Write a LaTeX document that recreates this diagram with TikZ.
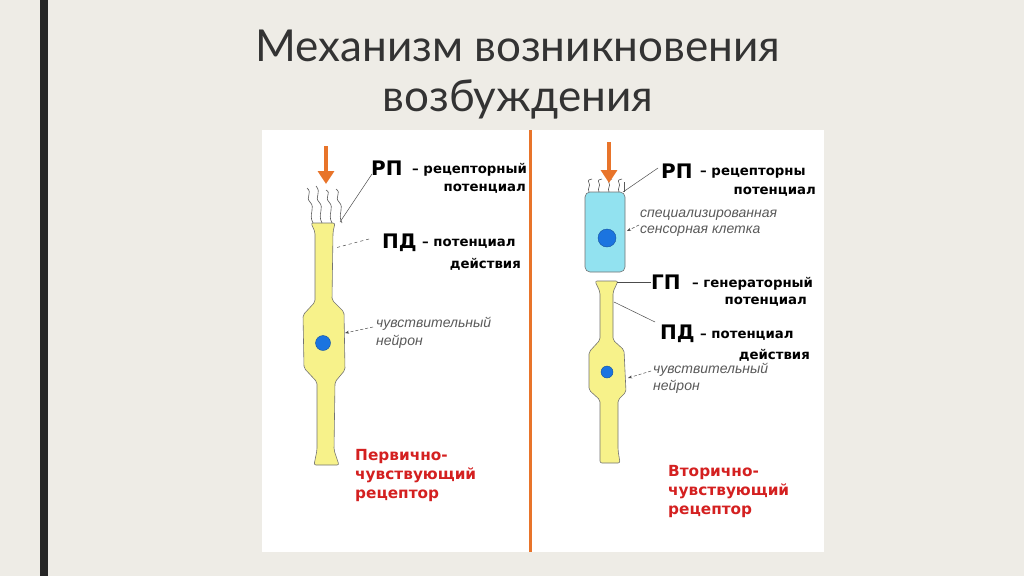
\documentclass[tikz,border=0pt]{standalone}
\usepackage{fontspec}
\usetikzlibrary{arrows.meta}
\setmainfont{Lato}
\newfontfamily\lab{DejaVu Sans}
\newfontfamily\ita{Liberation Sans}
\begin{document}
\begin{tikzpicture}[x=1pt,y=-1pt]
\definecolor{bgc}{HTML}{EEECE6}
\definecolor{orng}{HTML}{E8742A}
\definecolor{yel}{HTML}{F7F28A}
\definecolor{cyanc}{HTML}{92E2F0}
\definecolor{nucl}{HTML}{1B74E0}
\definecolor{redc}{HTML}{D42020}
\tikzset{
 cellbody/.style={fill=yel,draw=black!55,line width=0.6pt,rounded corners=2pt},
 nuc/.style={circle,fill=nucl,draw=nucl!70!black,line width=0.4pt,inner sep=0pt},
 hair/.style={draw=black!65,line width=0.6pt},
 inarrow/.style={draw=orng,line width=4pt,-{Triangle[length=13pt,width=16pt]}},
 leader/.style={draw=black!70,line width=0.5pt},
 dleader/.style={draw=black!70,line width=0.5pt,dashed,dash pattern=on 3pt off 2pt,-{Stealth[length=4pt]}},
 big/.style={font=\lab\bfseries\fontsize{20}{24}\selectfont,inner sep=0pt},
 small/.style={font=\lab\bfseries\fontsize{13.3}{14}\selectfont,inner sep=0pt},
 itl/.style={font=\ita\itshape\fontsize{14}{14}\selectfont,text=black!65,inner sep=0pt,anchor=west},
 redt/.style={font=\lab\bfseries\fontsize{15.3}{19}\selectfont,text=redc,align=left,anchor=north west,inner sep=0pt},
}
\useasboundingbox (0,0) rectangle (1024,576);
\fill[bgc] (0,0) rectangle (1024,576);
\fill[black!85] (40,0) rectangle (48,576);
\node[font=\fontsize{44}{50}\selectfont,text=black!80,align=center] (title) at (518,75) {Механизм возникновения\\возбуждения};
\fill[white] (262,130) rectangle (824,552);
\draw[orng,line width=3pt] (530,130) -- (530,552);

% ===== left =====
\path[cellbody] (311,223)--(335,223)--(333,232)--(332,300)--(344,312)--(345,370)--(335,382)--(334,450)--(339,465)--(314,465)--(317,450)--(317,382)--(304,368)--(303,315)--(315,302)--(315,232)--cycle;
\node[nuc,minimum size=15pt] (ln) at (323,343) {};
\foreach \x/\t in {307/188,316/186,326/190,336/189}{
 \draw[hair] (\x+6,223) .. controls (\x+1,214) and (\x+9,208) .. (\x+3,202) .. controls (\x-2,197) and (\x+6,193) .. (\x,\t);
}
\coordinate (la0) at (326,146);
\coordinate (la1) at (326,184);
\draw[inarrow] (la0) -- (la1);
\node[big,anchor=west] (lrp) at (371,168) {РП};
\node[small,anchor=west] (lrp1) at (412,170) {– рецепторный};
\node[small,anchor=east] (lrp2) at (526,189) {потенциал};
\coordinate (lrpe) at (340,222);
\draw[leader] (372,174) -- (lrpe);
\node[big,anchor=west] (lpd) at (382,243) {ПД};
\node[small,anchor=west] (lpd1) at (422,244) {– потенциал};
\node[small,anchor=east] (lpd2) at (521,264) {действия};
\coordinate (lpde) at (335,248);
\draw[leader,dashed] (369,239) -- (lpde);
\node[itl] (ln1) at (376,324) {чувствительный};
\node[itl] (ln2) at (376,342) {нейрон};
\coordinate (lne) at (345,333);
\draw[dleader] (373,327) -- (lne);
\node[redt] (lred) at (355,449) {Первично-\\чувствующий\\рецептор};

% ===== right =====
\path[fill=cyanc,draw=black!55,line width=0.6pt,rounded corners=5pt] (585,192) -- (585,272) -- (625,272) -- (625,192) -- cycle;
\node[nuc,minimum size=18pt] (rn1) at (607,238) {};
\foreach \x in {587,597,607,617}{
 \draw[hair] (\x+2,192) .. controls (\x,188) and (\x+4,186) .. (\x+2,183) .. controls (\x,180) and (\x+3,179) .. (\x+5,179);
}
\draw[hair] (624,192) -- (624,182);
\coordinate (ra0) at (609,142);
\coordinate (ra1) at (609,183);
\draw[inarrow] (ra0) -- (ra1);
\path[cellbody] (595,281)--(618,281)--(613,292)--(613,340)--(624,350)--(626,392)--(618,400)--(618,450)--(620,463)--(600,463)--(600,450)--(600,400)--(589,390)--(589,352)--(600,340)--(600,292)--cycle;
\node[nuc,minimum size=12pt] (rn2) at (607,372) {};
\node[big,anchor=west] (rrp) at (661,171) {РП};
\node[small,anchor=west] (rrp1) at (700,173) {– рецепторны};
\node[small,anchor=east] (rrp2) at (816,192) {потенциал};
\coordinate (rrpe) at (623,192);
\draw[leader] (658,168) -- (rrpe);
\node[itl] (rs1) at (640,215) {специализированная};
\node[itl] (rs2) at (640,231) {сенсорная клетка};
\coordinate (rse) at (627,231);
\draw[dleader] (639,225) -- (rse);
\node[big,anchor=west] (rgp) at (651,282) {ГП};
\node[small,anchor=west] (rgp1) at (692,284) {– генераторный};
\node[small,anchor=east] (rgp2) at (807,302) {потенциал};
\coordinate (rgpe) at (617,282);
\draw[leader,line width=0.8pt] (651,282) -- (rgpe);
\node[big,anchor=west] (rpd) at (660,334) {ПД};
\node[small,anchor=west] (rpd1) at (700,336) {– потенциал};
\node[small,anchor=east] (rpd2) at (810,355) {действия};
\coordinate (rpde) at (614,302);
\draw[leader] (655,322) -- (rpde);
\node[itl] (rn1t) at (653,370) {чувствительный};
\node[itl] (rn2t) at (653,387) {нейрон};
\coordinate (rne) at (628,378);
\draw[dleader] (651,371) -- (rne);
\node[redt] (rred) at (668,465) {Вторично-\\чувствующий\\рецептор};
\end{tikzpicture}
\end{document}
